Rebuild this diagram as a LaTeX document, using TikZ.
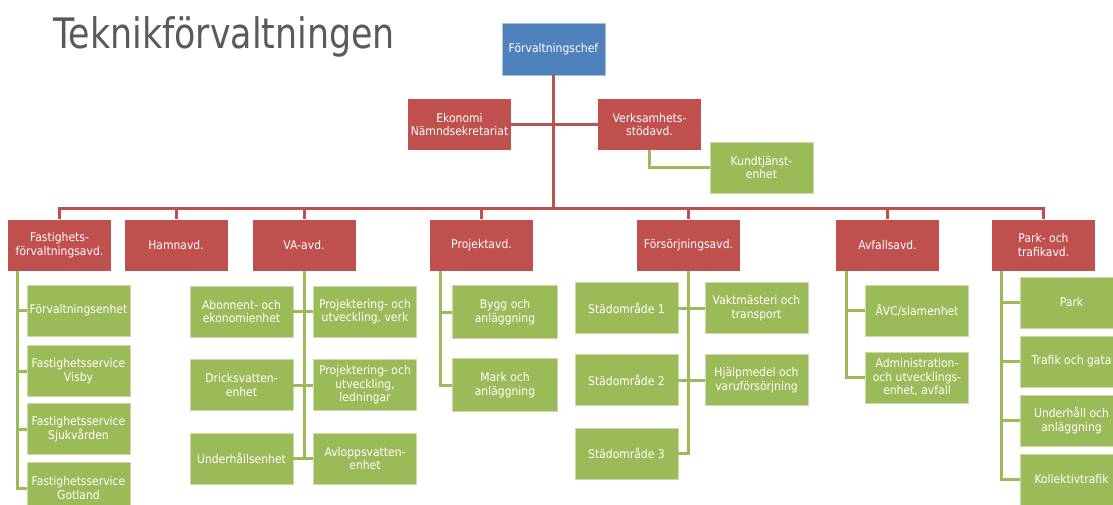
\documentclass[tikz,border=0pt]{standalone}
\usepackage{fontspec}
\newfontfamily\bxfont[FakeStretch=0.9]{DejaVu Sans}
\newfontfamily\ttlfont[FakeStretch=0.83]{DejaVu Sans}
\definecolor{cR}{HTML}{C0504D}
\definecolor{cG}{HTML}{9BBB59}
\definecolor{cGl}{HTML}{C9DBA8}
\definecolor{cB}{HTML}{4F81BD}
\definecolor{cBl}{HTML}{A9C1E0}
\definecolor{cT}{HTML}{5A5A5A}
\begin{document}
\begin{tikzpicture}[x=1pt,y=-1pt,
  box/.style={minimum width=103pt, minimum height=51pt, inner sep=1pt, align=center,
    text=white, font=\bxfont\fontsize{12}{13.5}\selectfont},
  rbox/.style={box, fill=cR},
  gbox/.style={box, fill=cG, draw=cGl, line width=0.8pt},
  bbox/.style={box, fill=cB, draw=cBl, line width=0.8pt},
  rl/.style={draw=cR, line width=3pt},
  gl/.style={draw=cG, line width=3pt},
  ttl/.style={font=\ttlfont\fontsize{42}{48}\selectfont, text=cT, inner sep=0pt, anchor=base west}
]
\useasboundingbox (0,0) rectangle (1113,504);
\clip (0,0) rectangle (1113,504);
\fill[white] (0,0) rectangle (1113,504);

\node[ttl] (title) at (53,48) {Teknikförvaltningen};

% top level
\node[bbox, minimum height=52pt] (chef) at (553.5,49) {Förvaltningschef};
\node[rbox] (eko) at (459.5,124.5) {Ekonomi\\Nämndsekretariat};
\node[rbox] (vsa) at (649.5,124.5) {Verksamhets-\\stödavd.};
\node[gbox] (kund) at (761.5,167.5) {Kundtjänst-\\enhet};
\coordinate (busy) at (0,208);

% departments
\node[rbox] (fast) at (59.5,245) {Fastighets-\\förvaltningsavd.};
\node[rbox] (hamn) at (176,245) {Hamnavd.};
\node[rbox] (va) at (304,245) {VA-avd.};
\node[rbox] (proj) at (481.5,245) {Projektavd.};
\node[rbox] (fors) at (688.5,245) {Försörjningsavd.};
\node[rbox] (avf) at (887.5,245) {Avfallsavd.};
\node[rbox] (park) at (1043.5,245) {Park- och\\trafikavd.};

% Fastighets
\node[gbox] (fa1) at (78.5,310.5) {Förvaltningsenhet};
\node[gbox] (fa2) at (78.5,371) {Fastighetsservice\\Visby};
\node[gbox] (fa3) at (78.5,429) {Fastighetsservice\\Sjukvården};
\node[gbox] (fa4) at (78.5,488) {Fastighetsservice\\Gotland};

% VA
\node[gbox] (val1) at (241.5,311.5) {Abonnent- och\\ekonomienhet};
\node[gbox] (val2) at (241.5,385) {Dricksvatten-\\enhet};
\node[gbox] (val3) at (241.5,458.5) {Underhållsenhet};
\node[gbox] (var1) at (365,311.5) {Projektering- och\\utveckling, verk};
\node[gbox] (var2) at (365,385) {Projektering- och\\utveckling,\\ledningar};
\node[gbox] (var3) at (365,458.5) {Avloppsvatten-\\enhet};

% Projekt
\node[gbox, minimum width=105pt, minimum height=53pt] (pr1) at (505,312) {Bygg och\\anläggning};
\node[gbox, minimum width=105pt, minimum height=53pt] (pr2) at (505,385) {Mark och\\anläggning};

% Försörjning
\node[gbox] (fl1) at (626.5,308) {Städområde 1};
\node[gbox] (fl2) at (626.5,380) {Städområde 2};
\node[gbox] (fl3) at (626.5,453.5) {Städområde 3};
\node[gbox] (fr1) at (756.5,308) {Vaktmästeri och\\transport};
\node[gbox] (fr2) at (756.5,380) {Hjälpmedel och\\varuförsörjning};

% Avfall
\node[gbox] (av1) at (917,310.5) {ÅVC/slamenhet};
\node[gbox] (av2) at (917,377.5) {Administration-\\och utvecklings-\\enhet, avfall};

% Park
\node[gbox] (pa1) at (1071.5,302.5) {Park};
\node[gbox] (pa2) at (1071.5,361.5) {Trafik och gata};
\node[gbox] (pa3) at (1071.5,420.5) {Underhåll och\\anläggning};
\node[gbox] (pa4) at (1071.5,479.5) {Kollektivtrafik};

% red connectors
\draw[rl] (chef.south) -- (chef.south |- busy);
\draw[rl] (eko.east) -- (vsa.west);
\draw[rl] (fast.north) -- (fast.north |- busy) -- (park.north |- busy) -- (park.north);
\foreach \n in {hamn,va,proj,fors,avf}
  \draw[rl] (\n.north) -- (\n.north |- busy);

% green connectors
\draw[gl] (vsa.south) |- (kund.west);
\foreach \c in {fa1,fa2,fa3,fa4}
  \draw[gl] ([xshift=10pt]fast.south west) |- (\c.west);
\foreach \c in {val1,val2,val3}
  \draw[gl] (va.south) |- (\c.east);
\foreach \c in {var1,var2,var3}
  \draw[gl] (va.south) |- (\c.west);
\foreach \c in {pr1,pr2}
  \draw[gl] ([xshift=11pt]proj.south west) |- (\c.west);
\foreach \c in {fl1,fl2,fl3}
  \draw[gl] (fors.south) |- (\c.east);
\foreach \c in {fr1,fr2}
  \draw[gl] (fors.south) |- (\c.west);
\foreach \c in {av1,av2}
  \draw[gl] ([xshift=11pt]avf.south west) |- (\c.west);
\foreach \c in {pa1,pa2,pa3,pa4}
  \draw[gl] ([xshift=10pt]park.south west) |- (\c.west);
\end{tikzpicture}
\end{document}
